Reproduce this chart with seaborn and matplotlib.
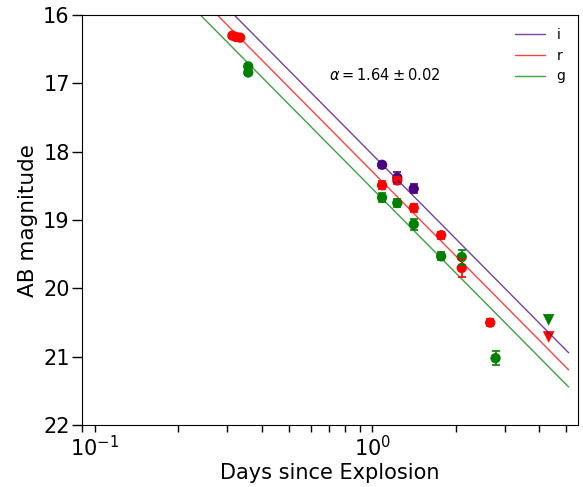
import matplotlib
matplotlib.use("Agg")
import matplotlib.pyplot as plt
import numpy as np
import pandas as pd
import seaborn as sns

sns.set_style("ticks")
plt.rcParams['font.family'] = ['DejaVu Sans']
plt.rcParams['text.color'] = 'black'
plt.rcParams['axes.labelcolor'] = 'black'
plt.rcParams['xtick.color'] = 'black'
plt.rcParams['ytick.color'] = 'black'

# photometry (days, AB mag, error)
i_days = [1.084, 1.23, 1.41]
i_mag = [18.19, 18.38, 18.54]
i_err = [0.04, 0.08, 0.07]

r_days = [0.313, 0.322, 0.334, 1.084, 1.23, 1.41, 1.77, 2.10, 2.66]
r_mag = [16.30, 16.32, 16.33, 18.49, 18.42, 18.82, 19.22, 19.70, 20.50]
r_err = [0.03, 0.03, 0.03, 0.06, 0.05, 0.06, 0.05, 0.13, 0.05]

g_days = [0.357, 0.357, 1.084, 1.23, 1.41, 1.77, 2.10, 2.78]
g_mag = [16.75, 16.84, 18.67, 18.75, 19.06, 19.53, 19.54, 21.02]
g_err = [0.03, 0.03, 0.06, 0.06, 0.08, 0.06, 0.11, 0.10]

# upper limits
lim_days = [4.32, 4.32]
lim_mag = [20.46, 20.71]
lim_band = ['g', 'r']

# power-law fits: m = m0 + 2.5 * alpha * log10(t)
alpha = 1.64
fit_m0 = {'i': 18.04, 'r': 18.29, 'g': 18.54}
fit_t = [0.1, 5.1]

line_colors = {'i': (75/255, 0, 130/255), 'r': 'red', 'g': 'green'}
point_colors = {'i': '#4B0082', 'r': 'red', 'g': 'green'}

fig, ax = plt.subplots(figsize=(5.83, 4.87), dpi=100)
fig.subplots_adjust(left=0.141, right=0.991, top=0.969, bottom=0.127)

t = np.array(fit_t)
for band in ['i', 'r', 'g']:
    fit_df = pd.DataFrame({'t': t, 'm': fit_m0[band] + 2.5 * alpha * np.log10(t)})
    sns.lineplot(data=fit_df, x='t', y='m', color=line_colors[band], alpha=0.75,
                 linewidth=1.0, label=band, ax=ax)

for band, d, m, e in [('i', i_days, i_mag, i_err),
                      ('r', r_days, r_mag, r_err),
                      ('g', g_days, g_mag, g_err)]:
    ax.errorbar(d, m, yerr=e, fmt='none', ecolor=point_colors[band],
                elinewidth=1.2, capsize=3, capthick=1.2)
    sns.scatterplot(x=d, y=m, color=point_colors[band], s=55, edgecolor='none',
                    ax=ax, legend=False)

for d, m, b in zip(lim_days, lim_mag, lim_band):
    sns.scatterplot(x=[d], y=[m], color=point_colors[b], marker='v', s=70,
                    edgecolor='none', ax=ax, legend=False)

ax.set_xscale('log')
ax.set_xlim(0.09, 5.5)
ax.set_ylim(22, 16)
ax.set_yticks([16, 17, 18, 19, 20, 21, 22])

ax.text(0.70, 16.88, r'$\alpha = 1.64 \pm 0.02$', fontsize=10.5, va='center')

ax.set_xlabel('Days since Explosion', fontsize=15, labelpad=2)
ax.set_ylabel('AB magnitude', fontsize=15.5, labelpad=4)
ax.tick_params(axis='both', which='major', labelsize=15, width=1)
ax.tick_params(axis='x', which='both', length=5, width=1, pad=2)
ax.tick_params(axis='y', which='major', length=7, pad=2)
for s in ax.spines.values():
    s.set_visible(True)
    s.set_color('black')

ax.legend(loc='upper right', frameon=False, fontsize=10, handlelength=2.2,
          labelspacing=0.5)

fig.savefig('out.png', dpi=100)
